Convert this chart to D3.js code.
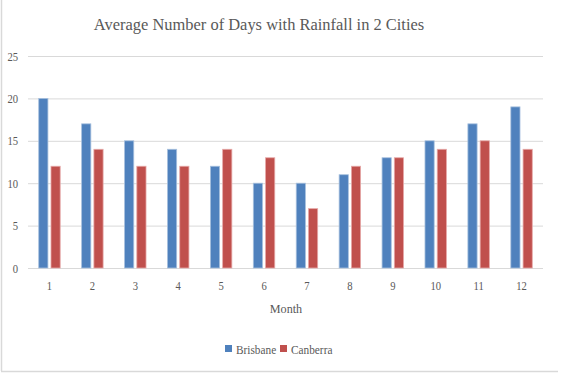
<!DOCTYPE html>
<html lang="en">
<head>
    <meta charset="UTF-8">
    <title>Rainfall days</title>
    <script src="https://d3js.org/d3.v7.min.js"></script>
    <style>
        body { margin: 0; padding: 0; background: white; }
        svg { display: block; }
        svg text { font-family: 'Liberation Serif', 'DejaVu Serif', serif; }
    </style>
</head>
<body>
    <div id="chart"></div>
    <script>
        var months = ["1", "2", "3", "4", "5", "6", "7", "8", "9", "10", "11", "12"];
        var brisbane = [20, 17, 15, 14, 12, 10, 10, 11, 13, 15, 17, 19];
        var canberra = [12, 14, 12, 12, 14, 13, 7, 12, 13, 14, 15, 14];
        var seriesNames = ["Brisbane", "Canberra"];
        var yTicks = [0, 5, 10, 15, 20, 25];

        var width = 562, height = 373;
        var colors = ["#4f81bd", "#c0504d"];
        var strokes = ["#a7c0de", "#e6a9a8"];
        var serif = "Liberation Serif, serif";
        var textColor = "#595959";

        var svg = d3.select("#chart").append("svg")
            .attr("width", width)
            .attr("height", height)
            .attr("font-family", serif);

        // the source picture is squeezed sideways, so text gets a horizontal scale
        function place(x, y, sx) {
            return "translate(" + x + "," + y + ") scale(" + sx + ",1)";
        }

        // chart frame (only left and bottom edges visible)
        svg.append("line").attr("x1", 1.5).attr("x2", 1.5).attr("y1", 0).attr("y2", 371)
            .attr("stroke", "#d9d9d9").attr("stroke-width", 1.5);
        svg.append("line").attr("x1", 1).attr("x2", 558).attr("y1", 371.5).attr("y2", 371.5)
            .attr("stroke", "#d9d9d9").attr("stroke-width", 1.5);

        var x = d3.scaleBand().domain(months).range([28, 543]).paddingInner(0.5).paddingOuter(0.25);
        var x1 = d3.scaleBand().domain(seriesNames).range([0, x.bandwidth()]).paddingInner(0.25);
        var y = d3.scaleLinear().domain([0, 25]).range([268, 56]);

        // gridlines
        svg.append("g").selectAll("line").data(yTicks).enter().append("line")
            .attr("x1", 28).attr("x2", 543)
            .attr("y1", function (d) { return y(d) + 0.5; })
            .attr("y2", function (d) { return y(d) + 0.5; })
            .attr("stroke", "#d9d9d9").attr("stroke-width", 1);

        // y labels
        svg.append("g").selectAll("text").data(yTicks).enter().append("text")
            .attr("transform", function (d) { return place(18, y(d) + 4.5, 0.85); })
            .attr("text-anchor", "end").attr("font-family", serif)
            .attr("font-size", 12.5).attr("fill", textColor)
            .text(function (d) { return d; });

        // bars
        var groups = svg.append("g").selectAll("g").data(months).enter().append("g")
            .attr("transform", function (d) { return "translate(" + x(d) + ",0)"; });

        groups.selectAll("rect")
            .data(function (d, i) { return [brisbane[i], canberra[i]]; })
            .enter().append("rect")
            .attr("x", function (d, j) { return x1(seriesNames[j]); })
            .attr("y", function (d) { return y(d); })
            .attr("width", x1.bandwidth())
            .attr("height", function (d) { return y(0) - y(d); })
            .attr("fill", function (d, j) { return colors[j]; })
            .attr("stroke", function (d, j) { return strokes[j]; })
            .attr("stroke-width", 0.8);

        // x labels
        svg.append("g").selectAll("text").data(months).enter().append("text")
            .attr("transform", function (d) { return place(x(d) + x.bandwidth() / 2, 289.5, 0.85); })
            .attr("text-anchor", "middle").attr("font-family", serif)
            .attr("font-size", 12.5).attr("fill", textColor)
            .text(function (d) { return d; });

        // axis title
        svg.append("text").attr("transform", place(286, 313, 0.9))
            .attr("text-anchor", "middle").attr("font-family", serif)
            .attr("font-size", 13.5).attr("fill", textColor)
            .text("Month");

        // chart title
        svg.append("text").attr("transform", place(259, 29.5, 0.93))
            .attr("text-anchor", "middle").attr("font-family", serif)
            .attr("font-size", 17.7).attr("fill", textColor)
            .text("Average Number of Days with Rainfall in 2 Cities");

        // legend
        var legendX = [225, 280];
        var legend = svg.append("g").selectAll("g").data(seriesNames).enter().append("g")
            .attr("transform", function (d, i) { return "translate(" + legendX[i] + ",345)"; });
        legend.append("rect").attr("width", 7).attr("height", 7)
            .attr("fill", function (d, i) { return colors[i]; });
        legend.append("text").attr("transform", place(11, 8.5, 0.87)).attr("font-family", serif)
            .attr("font-size", 13).attr("fill", textColor)
            .text(function (d) { return d; });
    </script>
</body>
</html>
